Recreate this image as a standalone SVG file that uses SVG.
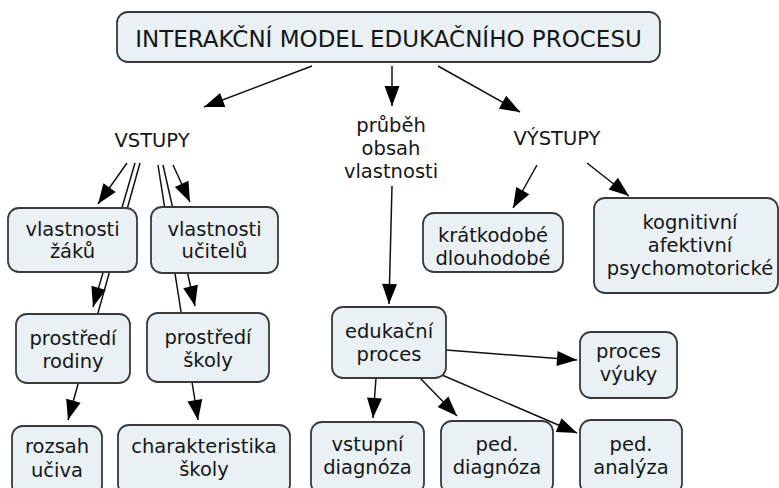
<svg xmlns="http://www.w3.org/2000/svg" width="779" height="488" viewBox="0 0 779 488">
<defs>
<marker id="ah" markerUnits="userSpaceOnUse" markerWidth="20" markerHeight="15" refX="20" refY="7.5" orient="auto" overflow="visible">
<path d="M0,0 L20,7.5 L0,15 z" fill="#000"/>
</marker>
<style>
.c line{stroke:#111;stroke-width:1.5;fill:none}
.c .a{marker-end:url(#ah)}
.n rect{fill:#e9f1f5;stroke:#3a3a3a;stroke-width:1.8}
text{font-family:"DejaVu Sans",Verdana,sans-serif;font-size:19.5px;fill:#161616;text-anchor:middle}
.t{font-size:23px}
</style>
</defs>
<rect width="779" height="488" fill="#fff"/>
<g id="connectors" class="c">
<line class="a" x1="312" y1="66" x2="204" y2="107"/>
<line class="a" x1="392" y1="66" x2="392" y2="106"/>
<line class="a" x1="438" y1="66" x2="520" y2="112"/>
<line class="a" x1="127" y1="163" x2="98" y2="204"/>
<line class="a" x1="135" y1="163" x2="93" y2="307"/>
<line class="a" x1="140" y1="163" x2="68" y2="420"/>
<line class="a" x1="173" y1="165" x2="190" y2="202"/>
<line class="a" x1="163" y1="165" x2="195" y2="306"/>
<line class="a" x1="158" y1="165" x2="198" y2="420"/>
<line class="a" x1="392" y1="186" x2="389" y2="304"/>
<line class="a" x1="537" y1="165" x2="513" y2="208"/>
<line class="a" x1="587" y1="163" x2="629" y2="196"/>
<line class="a" x1="376" y1="378" x2="373" y2="418"/>
<line class="a" x1="420" y1="378" x2="457" y2="416"/>
<line class="a" x1="446" y1="350" x2="577" y2="360"/>
<line class="a" x1="442" y1="375" x2="577" y2="433"/>
</g>
<g id="title" class="n">
<rect x="117" y="12" width="543" height="50" rx="11"/>
<text class="t" x="388.5" y="47">INTERAKČNÍ MODEL EDUKAČNÍHO PROCESU</text>
</g>
<g id="vstupy"><text x="152" y="147">VSTUPY</text></g>
<g id="prubeh"><text x="391" y="132">průběh</text><text x="391" y="155">obsah</text><text x="391" y="178">vlastnosti</text></g>
<g id="vystupy"><text x="557" y="145">VÝSTUPY</text></g>
<g id="vlastnosti-zaku" class="n">
<rect x="8" y="208" width="129" height="64" rx="11"/>
<text x="72.5" y="236">vlastnosti</text><text x="72.5" y="258">žáků</text>
</g>
<g id="vlastnosti-ucitelu" class="n">
<rect x="151" y="207" width="127" height="66" rx="11"/>
<text x="214.5" y="236">vlastnosti</text><text x="214.5" y="258">učitelů</text>
</g>
<g id="prostredi-rodiny" class="n">
<rect x="16" y="314" width="114" height="69" rx="11"/>
<text x="73" y="345">prostředí</text><text x="73" y="368">rodiny</text>
</g>
<g id="prostredi-skoly" class="n">
<rect x="147" y="313" width="122" height="69" rx="11"/>
<text x="208" y="344">prostředí</text><text x="208" y="367">školy</text>
</g>
<g id="rozsah-uciva" class="n">
<rect x="12" y="426" width="90" height="70" rx="11"/>
<text x="57" y="453">rozsah</text><text x="57" y="477">učiva</text>
</g>
<g id="charakteristika-skoly" class="n">
<rect x="118" y="425" width="172" height="70" rx="11"/>
<text x="204" y="453">charakteristika</text><text x="204" y="476">školy</text>
</g>
<g id="edukacni-proces" class="n">
<rect x="332" y="307" width="114" height="71" rx="11"/>
<text x="389" y="338">edukační</text><text x="389" y="361">proces</text>
</g>
<g id="vstupni-diagnoza" class="n">
<rect x="311" y="422" width="113" height="72" rx="11"/>
<text x="367.5" y="451">vstupní</text><text x="367.5" y="474">diagnóza</text>
</g>
<g id="ped-diagnoza" class="n">
<rect x="441" y="421" width="112" height="73" rx="11"/>
<text x="497" y="451">ped.</text><text x="497" y="474">diagnóza</text>
</g>
<g id="proces-vyuky" class="n">
<rect x="580" y="332" width="97" height="66" rx="11"/>
<text x="628.5" y="358">proces</text><text x="628.5" y="381">výuky</text>
</g>
<g id="ped-analyza" class="n">
<rect x="580" y="420" width="102" height="74" rx="11"/>
<text x="631" y="451">ped.</text><text x="631" y="474">analýza</text>
</g>
<g id="kratkodobe" class="n">
<rect x="423" y="213" width="140" height="59" rx="11"/>
<text x="493" y="242">krátkodobé</text><text x="493" y="265">dlouhodobé</text>
</g>
<g id="kognitivni" class="n">
<rect x="594" y="198" width="184" height="95" rx="11"/>
<text x="690" y="229">kognitivní</text><text x="690" y="252">afektivní</text><text x="690" y="275">psychomotorické</text>
</g>
</svg>
